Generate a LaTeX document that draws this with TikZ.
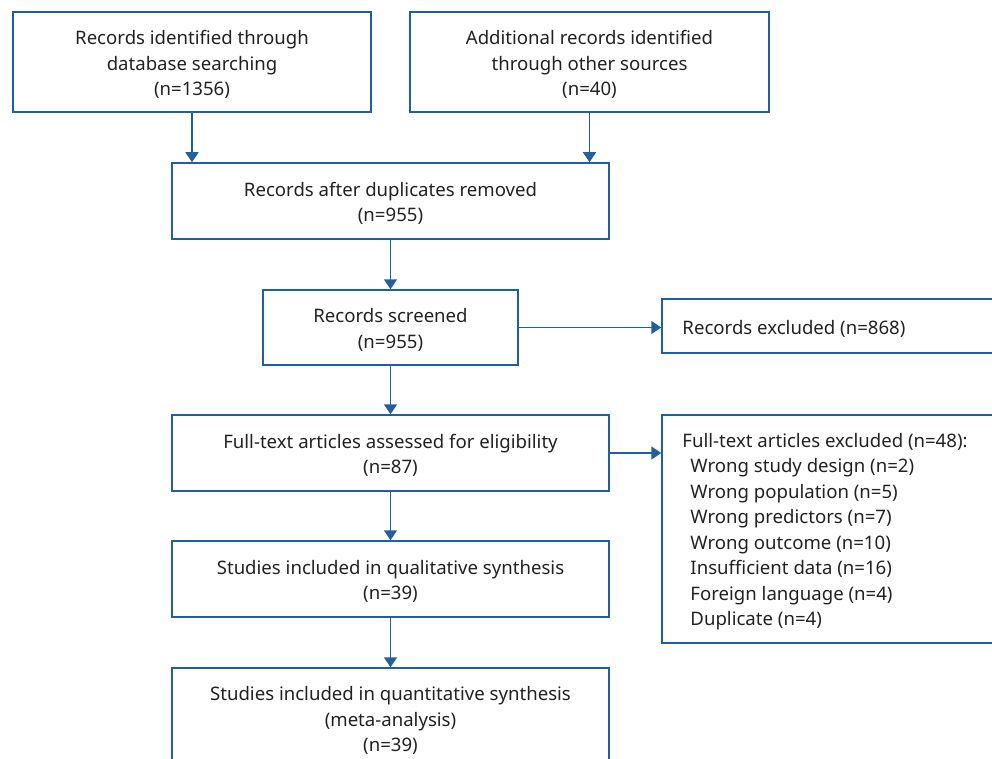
\documentclass[tikz,border=0pt]{standalone}
\usepackage{fontspec}
\setmainfont{Noto Sans}
\usetikzlibrary{arrows.meta}
\definecolor{pblue}{HTML}{1F5FA8}
\definecolor{ptext}{HTML}{222222}
\tikzset{
  box/.style={draw=pblue, line width=1.5pt, inner sep=0pt},
  txt/.style={inner sep=0pt, text=ptext, align=center, yshift=-2.5pt,
    font=\fontsize{18.6}{25.5}\selectfont},
  ltxt/.style={txt, align=left, anchor=west, xshift=21pt},
  arr/.style={draw=pblue, line width=1.5pt, -{Triangle[length=10pt,width=13pt]}},
}
\begin{document}
\begin{tikzpicture}[x=1pt,y=-1pt]
\useasboundingbox (0,0) rectangle (992,759);
\clip (0,0) rectangle (992,759);
\node[box, minimum width=358pt, minimum height=100pt] (b1) at (192,62) {};
\node[txt] (t1) at (b1) {Records identified through\\database searching\\(n=1356)};
\node[box, minimum width=359pt, minimum height=100pt] (b2) at (589.5,62) {};
\node[txt] (t2) at (b2) {Additional records identified\\through other sources\\(n=40)};
\node[box, minimum width=437pt, minimum height=76pt] (b3) at (390.5,201) {};
\node[txt] (t3) at (b3) {Records after duplicates removed\\(n=955)};
\node[box, minimum width=255pt, minimum height=75pt] (b4) at (390.5,327.5) {};
\node[txt] (t4) at (b4) {Records screened\\(n=955)};
\node[box, minimum width=350pt, minimum height=54pt] (b5) at (837,326) {};
\node[ltxt] (t5) at (b5.west) {Records excluded (n=868)};
\node[box, minimum width=350pt, minimum height=228pt] (b7) at (837,529) {};
\node[ltxt] (t7) at (b7.west) {Full-text articles excluded (n=48):\\
\hspace*{8pt}Wrong study design (n=2)\\
\hspace*{8pt}Wrong population (n=5)\\
\hspace*{8pt}Wrong predictors (n=7)\\
\hspace*{8pt}Wrong outcome (n=10)\\
\hspace*{8pt}Insufficient data (n=16)\\
\hspace*{8pt}Foreign language (n=4)\\
\hspace*{8pt}Duplicate (n=4)};
\node[box, minimum width=437pt, minimum height=76pt] (b6) at (390.5,453) {};
\node[txt] (t6) at (b6) {Full-text articles assessed for eligibility\\(n=87)};
\node[box, minimum width=437pt, minimum height=76pt] (b8) at (390.5,579) {};
\node[txt] (t8) at (b8) {Studies included in qualitative synthesis\\(n=39)};
\node[box, minimum width=437pt, minimum height=100pt] (b9) at (390.5,718) {};
\node[txt] (t9) at (b9) {Studies included in quantitative synthesis\\(meta-analysis)\\(n=39)};
\draw[arr] (b1.south) -- (b1.south |- b3.north);
\draw[arr] (b2.south) -- (b2.south |- b3.north);
\draw[arr] (b3) -- (b4);
\draw[arr] (b4) -- (b6);
\draw[arr] (b6) -- (b8);
\draw[arr] (b8) -- (b9);
\draw[arr] (b4.east) -- (b4.east -| b5.west);
\draw[arr] (b6.east) -- (b6.east -| b7.west);
\end{tikzpicture}
\end{document}
